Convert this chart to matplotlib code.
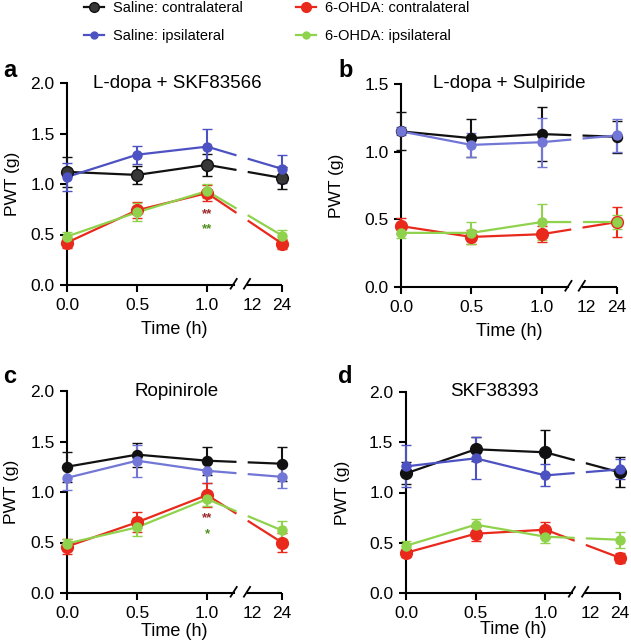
import numpy as np
import matplotlib
matplotlib.use("Agg")
import matplotlib.pyplot as plt
from matplotlib.lines import Line2D

plt.rcParams['font.family'] = ['Liberation Sans', 'DejaVu Sans']

# ---------------- data ----------------
times = [0, 0.5, 1, 24]
xtick_labels = ['0.0', '0.5', '1.0', '12', '24']
xtick_times = [0, 0.5, 1, 12, 24]

series_names = ['Saline: contralateral', 'Saline: ipsilateral',
                '6-OHDA: contralateral', '6-OHDA: ipsilateral']

panel_letters = ['a', 'b', 'c', 'd']
panel_titles = ['L-dopa + SKF83566', 'L-dopa + Sulpiride', 'Ropinirole', 'SKF38393']
panel_ymax = [2.0, 1.5, 2.0, 2.0]

# Panel a
a_sal_con = [1.12, 1.09, 1.19, 1.06]; a_sal_con_err = [0.15, 0.09, 0.11, 0.11]
a_sal_ips = [1.07, 1.29, 1.37, 1.15]; a_sal_ips_err = [0.14, 0.09, 0.17, 0.14]
a_ohda_con = [0.42, 0.74, 0.91, 0.41]; a_ohda_con_err = [0.05, 0.08, 0.08, 0.05]
a_ohda_ips = [0.48, 0.72, 0.93, 0.49]; a_ohda_ips_err = [0.04, 0.09, 0.07, 0.05]
# Panel b
b_sal_con = [1.15, 1.10, 1.13, 1.11]; b_sal_con_err = [0.14, 0.14, 0.20, 0.12]
b_sal_ips = [1.15, 1.05, 1.07, 1.12]; b_sal_ips_err = [0.03, 0.09, 0.18, 0.12]
b_ohda_con = [0.45, 0.37, 0.39, 0.48]; b_ohda_con_err = [0.06, 0.05, 0.06, 0.11]
b_ohda_ips = [0.40, 0.40, 0.48, 0.48]; b_ohda_ips_err = [0.04, 0.08, 0.13, 0.05]
# Panel c
c_sal_con = [1.25, 1.37, 1.31, 1.28]; c_sal_con_err = [0.15, 0.12, 0.14, 0.17]
c_sal_ips = [1.14, 1.31, 1.21, 1.15]; c_sal_ips_err = [0.12, 0.16, 0.12, 0.11]
c_ohda_con = [0.46, 0.70, 0.97, 0.50]; c_ohda_con_err = [0.07, 0.10, 0.12, 0.09]
c_ohda_ips = [0.49, 0.65, 0.93, 0.62]; c_ohda_ips_err = [0.04, 0.09, 0.07, 0.09]
# Panel d
d_sal_con = [1.19, 1.43, 1.40, 1.20]; d_sal_con_err = [0.11, 0.12, 0.22, 0.15]
d_sal_ips = [1.26, 1.34, 1.17, 1.23]; d_sal_ips_err = [0.21, 0.21, 0.11, 0.10]
d_ohda_con = [0.40, 0.59, 0.63, 0.35]; d_ohda_con_err = [0.04, 0.07, 0.08, 0.05]
d_ohda_ips = [0.47, 0.68, 0.56, 0.53]; d_ohda_ips_err = [0.05, 0.06, 0.06, 0.08]

# significance marks: (panel, time, y, text, color)
stars = [
    ('a', 1, 0.70, '**', '#9b2b2b'),
    ('a', 1, 0.548, '**', '#4f8f1f'),
    ('c', 1, 0.737, '**', '#9b2b2b'),
    ('c', 1, 0.585, '*', '#4f8f1f'),
]

panels = {
    'a': [(a_sal_con, a_sal_con_err), (a_sal_ips, a_sal_ips_err), (a_ohda_con, a_ohda_con_err), (a_ohda_ips, a_ohda_ips_err)],
    'b': [(b_sal_con, b_sal_con_err), (b_sal_ips, b_sal_ips_err), (b_ohda_con, b_ohda_con_err), (b_ohda_ips, b_ohda_ips_err)],
    'c': [(c_sal_con, c_sal_con_err), (c_sal_ips, c_sal_ips_err), (c_ohda_con, c_ohda_con_err), (c_ohda_ips, c_ohda_ips_err)],
    'd': [(d_sal_con, d_sal_con_err), (d_sal_ips, d_sal_ips_err), (d_ohda_con, d_ohda_con_err), (d_ohda_ips, d_ohda_ips_err)],
}

# ---------------- style ----------------
colors = ['#111111', '#4d52c2', '#e8291c', '#8fd24c']
faces = ['#111111', '#4d52c2', '#e8291c', '#8fd24c']
msizes = [8.5, 6.5, 8.5, 6.5]
draw_order = [1, 3, 0, 2]
# per-panel tweaks
blue_by_panel = {'a': '#4d52c2', 'b': '#7276d6', 'c': '#7276d6', 'd': '#4d52c2'}
black_face_by_panel = {'a': '#383838', 'b': '#111111', 'c': '#111111', 'd': '#111111'}
black_size_by_panel = {'a': 8.5, 'b': 7.2, 'c': 7.2, 'd': 8.5}

# broken x axis: position of 12 and 24 on the axis
P12, P24 = 1.32, 1.535
GAP0, GAP1 = 1.21, 1.29
BRK0, BRK1 = 1.19, 1.285


def to_pos(t):
    t = np.asarray(t, dtype=float)
    return np.where(t <= 1, t, P12 + (t - 12) / 12.0 * (P24 - P12))


W, H = 631, 641
fig = plt.figure(figsize=(W / 100, H / 100), dpi=100)

# axes boxes in pixels: (left, right, top(ymax), bottom(y0))
boxes = {
    'a': (67, 282, 83, 285),
    'b': (401, 617, 84, 287),
    'c': (67, 282, 391, 593),
    'd': (406, 620, 392, 593),
}
ylab_x = {'a': 12, 'b': 336, 'c': 11, 'd': 343}
xlab_dy = {'a': 45, 'b': 44, 'c': 39, 'd': 37}
letter_pos = {'a': (3, 77), 'b': (338, 77), 'c': (3, 383), 'd': (338, 383)}
title_x = {'a': 177, 'b': 509, 'c': 177, 'd': 494}

LW = 1.6
for li, key in enumerate(panel_letters):
    l, r, t, b = boxes[key]
    ax = fig.add_axes([l / W, 1 - b / H, (r - l) / W, (b - t) / H])
    ymax = panel_ymax[li]
    pos = to_pos(times)
    for si in draw_order:
        vals, errs = panels[key][si]
        vals = np.asarray(vals, float)
        c = colors[si]
        fc = faces[si]
        ms = msizes[si]
        if si == 1:
            c = fc = blue_by_panel[key]
        if si == 0:
            fc = black_face_by_panel[key]
            ms = black_size_by_panel[key]
        yg0 = np.interp(GAP0, pos, vals)
        yg1 = np.interp(GAP1, pos, vals)
        ax.plot(list(pos[:3]) + [GAP0], list(vals[:3]) + [yg0], color=c, lw=LW,
                zorder=2 + si * 0.1, solid_capstyle='butt')
        ax.plot([GAP1, pos[3]], [yg1, vals[3]], color=c, lw=LW,
                zorder=2 + si * 0.1, solid_capstyle='butt')
        eb = ax.errorbar(pos, vals, yerr=errs, fmt='o', color=c, ecolor=c,
                         elinewidth=1.5, capsize=3.8, capthick=1.5,
                         markersize=ms, markerfacecolor=fc,
                         markeredgecolor=c, markeredgewidth=1.0,
                         zorder=3 + si * 0.1, clip_on=False)
        for art in eb.lines[1] + eb.lines[2]:
            art.set_clip_on(False)
    for (pk, tt, yy, txt, sc) in stars:
        if pk == key:
            ax.text(float(to_pos(tt)), yy, txt, color=sc, ha='center', va='center',
                    fontsize=9.5, fontweight='bold')

    ax.set_xlim(0, P24)
    ax.set_ylim(0, ymax)
    ax.set_yticks(np.arange(0, ymax + 0.01, 0.5))
    ax.set_yticklabels(['%.1f' % v for v in np.arange(0, ymax + 0.01, 0.5)])
    ax.set_xticks(to_pos(xtick_times))
    ax.set_xticklabels(xtick_labels)
    ax.tick_params(axis='both', direction='out', length=5, width=1.5,
                   labelsize=12.5, pad=4, color='black')
    ax.xaxis.get_major_ticks()[3].tick1line.set_visible(False)
    for s in ['top', 'right']:
        ax.spines[s].set_visible(False)
    ax.spines['left'].set_linewidth(1.5)
    ax.spines['bottom'].set_linewidth(1.5)
    ax.spines['bottom'].set_bounds(0, BRK0)
    xt = ax.get_xaxis_transform()
    ax.plot([BRK1, P24], [0, 0], color='black', lw=1.5, transform=xt,
            clip_on=False, solid_capstyle='butt')
    for bx in (BRK0, BRK1):
        ax.plot([bx - 0.022, bx + 0.022], [-0.018, 0.03], color='black', lw=1.3,
                transform=xt, clip_on=False)

    ax.set_ylabel('PWT (g)', fontsize=12.5)
    ax.yaxis.label.set_va('center')
    ax.yaxis.set_label_coords((ylab_x[key] - l) / (r - l), 0.5)
    ax.set_xlabel('Time (h)', fontsize=13)
    ax.xaxis.label.set_va('center')
    ax.xaxis.set_label_coords(0.5, -xlab_dy[key] / (b - t))

    ax.text((title_x[key] - l) / (r - l), 1.0, panel_titles[li], transform=ax.transAxes,
            ha='center', va='center', fontsize=13.5)
    lx, ly = letter_pos[key]
    fig.text(lx / W, 1 - ly / H, key, fontsize=17, fontweight='bold',
             ha='left', va='baseline')

handles = []
for si in range(4):
    hc = colors[si]
    hf = faces[si]
    if si == 0:
        hf = '#383838'
    handles.append(Line2D([0], [0], color=hc, lw=1.6, marker='o',
                          markersize=msizes[si] - 1.5, markerfacecolor=hf,
                          markeredgecolor=hc))
fig.legend(handles, series_names,
           ncol=2, loc='upper left', bbox_to_anchor=(84 / W, 1 - 1.0 / H),
           frameon=False, fontsize=10.5, handlelength=1.4, handletextpad=0.6,
           columnspacing=3.6, labelspacing=0.95, borderpad=0, borderaxespad=0)

fig.savefig('out.png', dpi=100)
